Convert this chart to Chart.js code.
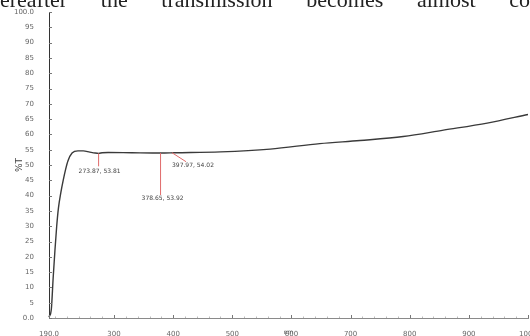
<!DOCTYPE html>
<html>
<head>
<meta charset="utf-8">
<script src="https://cdn.jsdelivr.net/npm/chart.js@4.4.1/dist/chart.umd.min.js"></script>
<style>
    html, body { margin: 0; padding: 0; background: #fff; overflow: hidden; }
    #wrap { position: relative; width: 530px; height: 336px; overflow: hidden; }
    #clip {
        position: absolute; left: 0; top: -13px; width: 530px;
        font: 22px "Liberation Serif", serif; color: #222;
        text-align: justify; text-align-last: justify; white-space: nowrap;
    }
    canvas { position: absolute; left: 0; top: 0; }
</style>
</head>
<body>
<div id="wrap">
    <canvas id="spectrum" width="530" height="336"></canvas>
    <div id="clip">ereafter &nbsp;the &nbsp;transmission &nbsp;becomes &nbsp;almost &nbsp;co</div>
</div>
<script>
// wavelength (nm) and %T
const wavelengths = [190, 194, 197, 200, 203, 206, 210, 214, 218, 222, 229, 239, 248, 259, 268, 274, 280, 290, 330, 379, 403, 480, 564, 648, 716, 789, 857, 931, 1000];
const transmittance = [0.3, 3, 13, 22, 30, 36, 41, 45, 48.5, 51.3, 53.9, 54.6, 54.6, 54.2, 53.9, 53.8, 54.0, 54.1, 54.0, 53.9, 54.0, 54.3, 55.2, 57.0, 58.0, 59.3, 61.4, 63.7, 66.5];

const xTicks = [190, 300, 400, 500, 600, 700, 800, 900, 1000];
const yTicks = [0, 5, 10, 15, 20, 25, 30, 35, 40, 45, 50, 55, 60, 65, 70, 75, 80, 85, 90, 95, 100];

// picked peaks
const peakNm = [273.87, 378.65, 397.97];
const peakT = [53.81, 53.92, 54.02];

// where each peak label sits relative to its point (px)
const peakLabelPlace = [
    { lineTo: [0, 13], text: [1, 18] },
    { lineTo: [0, 42], text: [2, 45] },
    { lineTo: [14, 9], text: [21, 13] }
];

const innerTicks = {
    id: 'innerTicks',
    afterDraw(chart) {
        const ctx = chart.ctx;
        const x = chart.scales.x, y = chart.scales.y;
        const area = chart.chartArea;
        ctx.save();
        ctx.strokeStyle = '#777';
        ctx.lineWidth = 1;
        ctx.beginPath();
        yTicks.forEach(v => {
            const py = Math.round(y.getPixelForValue(v)) + 0.5;
            ctx.moveTo(area.left, py);
            ctx.lineTo(area.left + 3, py);
        });
        xTicks.forEach(v => {
            const px = Math.round(x.getPixelForValue(v)) + 0.5;
            ctx.moveTo(px, area.bottom);
            ctx.lineTo(px, area.bottom - 3);
        });
        ctx.stroke();
        ctx.strokeStyle = '#bbb';
        ctx.beginPath();
        for (let v = 200; v < 1000; v += 20) {
            if (xTicks.includes(v)) continue;
            const px = Math.round(x.getPixelForValue(v)) + 0.5;
            ctx.moveTo(px, area.bottom);
            ctx.lineTo(px, area.bottom - 1.5);
        }
        ctx.stroke();
        ctx.restore();
    }
};

const peakLabels = {
    id: 'peakLabels',
    afterDatasetsDraw(chart) {
        const ctx = chart.ctx;
        const x = chart.scales.x, y = chart.scales.y;
        ctx.save();
        ctx.font = '6px "DejaVu Sans"';
        ctx.textAlign = 'center';
        ctx.textBaseline = 'middle';
        peakNm.forEach((nm, i) => {
            const px = x.getPixelForValue(nm);
            const py = y.getPixelForValue(peakT[i]);
            const p = peakLabelPlace[i];
            ctx.strokeStyle = '#e06a6a';
            ctx.lineWidth = 1;
            ctx.beginPath();
            ctx.moveTo(px, py);
            ctx.lineTo(px + p.lineTo[0], py + p.lineTo[1]);
            ctx.stroke();
            ctx.fillStyle = '#444';
            ctx.fillText(nm.toFixed(2) + ', ' + peakT[i].toFixed(2), px + p.text[0], py + p.text[1]);
        });
        ctx.restore();
    }
};

new Chart(document.getElementById('spectrum'), {
    type: 'line',
    data: {
        datasets: [{
            data: wavelengths.map((w, i) => ({ x: w, y: transmittance[i] })),
            borderColor: '#3a3a3a',
            borderWidth: 1.4,
            pointRadius: 0,
            fill: false,
            cubicInterpolationMode: 'monotone',
            clip: false
        }]
    },
    options: {
        responsive: false,
        animation: false,
        events: [],
        layout: { autoPadding: false, padding: { top: 12, right: 2, left: 0, bottom: 0 } },
        plugins: { legend: { display: false }, tooltip: { enabled: false } },
        scales: {
            x: {
                type: 'linear',
                min: 190,
                max: 1000,
                afterBuildTicks: s => { s.ticks = xTicks.map(v => ({ value: v })); },
                afterFit: s => { s.height = 18; s.paddingLeft = 0; s.paddingRight = 0; },
                grid: { display: false },
                border: { display: true, color: '#8a8a8a', width: 1 },
                ticks: {
                    autoSkip: false, maxRotation: 0, padding: 4,
                    color: '#666', font: { size: 7, family: 'DejaVu Sans' },
                    callback: v => v === 190 ? '190.0' : String(v)
                },
                title: { display: true, text: 'nm', color: '#555', font: { size: 6, family: 'DejaVu Sans' }, padding: 0 }
            },
            y: {
                min: 0,
                max: 100,
                afterBuildTicks: s => { s.ticks = yTicks.map(v => ({ value: v })); },
                afterFit: s => { s.width = 49; s.paddingTop = 0; s.paddingBottom = 0; },
                grid: { display: false },
                border: { display: true, color: '#333', width: 1 },
                ticks: {
                    autoSkip: false, padding: 7,
                    color: '#666', font: { size: 7, family: 'DejaVu Sans' },
                    callback: v => (v === 0 ? '0.0' : v === 100 ? '100.0' : String(v))
                },
                title: { display: true, text: '%T', color: '#444', font: { size: 9, family: 'DejaVu Sans' }, padding: { top: 14, bottom: 0 } }
            }
        }
    },
    plugins: [innerTicks, peakLabels]
});
</script>
</body>
</html>
